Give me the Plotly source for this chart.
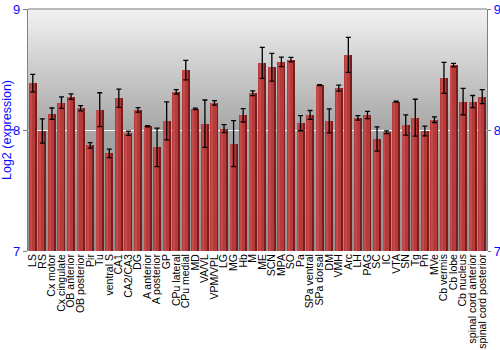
import plotly.graph_objects as go

regions = ["LS", "RS", "Cx motor", "Cx cingulate", "OB anterior", "OB posterior", "Pir", "Tu",
           "ventral S", "CA1", "CA2/CA3", "DG", "A anterior", "A posterior", "GP", "CPu lateral",
           "CPu medial", "MD", "VA/VL", "VPM/VPL", "LG", "MG", "Hb", "M", "ME", "SCN", "MPA", "SO",
           "Pa", "SPa ventral", "SPa dorsal", "DM", "VMH", "Arc", "LH", "PAG", "SC", "IC", "VTA",
           "SN", "Tg", "Pn", "MVe", "Cb vermis", "Cb lobe", "Cb nucleus", "spinal cord anterior",
           "spinal cord posterior"]

expression = [8.387, 7.992, 8.135, 8.226, 8.276, 8.180, 7.873, 8.168,
              7.807, 8.262, 7.973, 8.166, 8.031, 7.857, 8.075, 8.315,
              8.495, 8.174, 8.052, 8.224, 8.011, 7.887, 8.121, 8.304,
              8.555, 8.519, 8.563, 8.582, 8.056, 8.124, 8.370, 8.075,
              8.346, 8.621, 8.100, 8.124, 7.925, 7.981, 8.235, 8.041,
              8.102, 7.992, 8.085, 8.431, 8.536, 8.235, 8.235, 8.276]

error = [0.072, 0.100, 0.047, 0.047, 0.023, 0.022, 0.023, 0.140,
         0.035, 0.075, 0.018, 0.019, 0.005, 0.159, 0.157, 0.019,
         0.080, 0.006, 0.196, 0.018, 0.033, 0.190, 0.055, 0.020,
         0.128, 0.115, 0.040, 0.019, 0.062, 0.037, 0.004, 0.099,
         0.025, 0.144, 0.019, 0.030, 0.100, 0.011, 0.004, 0.084,
         0.152, 0.040, 0.023, 0.128, 0.015, 0.109, 0.050, 0.058]

y_ticks = [7, 8, 9]

blue = "#0a0aff"
fig = go.Figure()

# layered bars to imitate the shaded 3D look
layers = [
    (0.84, -0.42, "#7a1c1c"),
    (0.64, -0.42, "#b53a3a"),
    (0.22, -0.34, "#c24a4a"),
]
for w, off, col in layers:
    fig.add_trace(go.Bar(
        x=list(range(len(regions))), y=[v - 7 for v in expression], base=7,
        width=w, offset=off,
        marker=dict(color=col, line=dict(width=0)),
        showlegend=False, hoverinfo="skip"))

fig.add_trace(go.Scatter(
    x=list(range(len(regions))), y=expression, mode="markers",
    marker=dict(size=1, color="rgba(0,0,0,0)"),
    error_y=dict(type="data", array=error, visible=True, color="black",
                 thickness=1.3, width=2.5),
    showlegend=False, hoverinfo="skip"))

# invisible trace for right axis
fig.add_trace(go.Scatter(x=[0], y=[8], yaxis="y2", mode="markers",
                         marker=dict(size=1, color="rgba(0,0,0,0)"),
                         showlegend=False, hoverinfo="skip"))

# gradient background
n = 60
def lerp(a, b, t):
    return int(round(a + (b - a) * t))
shapes = []
for k in range(n):
    t0 = k / n
    t1 = (k + 1) / n
    tm = (t0 + t1) / 2  # 0 at bottom, 1 at top
    if tm >= 0.5:
        u = (tm - 0.5) / 0.5
        g = lerp(0xa6, 0xf2, u)
    else:
        u = tm / 0.5
        g = lerp(0x90, 0xa6, u)
    c = f"rgb({g},{g},{g})"
    shapes.append(dict(type="rect", xref="paper", yref="paper", x0=0, x1=1, y0=t0, y1=t1 + 0.002,
                       fillcolor=c, line=dict(width=0), layer="below"))
shapes.append(dict(type="line", xref="paper", yref="paper", x0=0, x1=1, y0=1, y1=1,
                   line=dict(color="#808080", width=1.2)))

fig.update_layout(
    width=500, height=350,
    margin=dict(l=28, r=13, t=9, b=99, autoexpand=False),
    paper_bgcolor="white", plot_bgcolor="#a6a6a6",
    barmode="overlay", bargap=0,
    font=dict(family="Liberation Sans, Arial, sans-serif", color="black"),
    shapes=shapes,
    xaxis=dict(tickmode="array", tickvals=list(range(len(regions))), ticktext=regions,
               tickangle=-90, tickfont=dict(size=10.5, color="black"), automargin=False,
               range=[-0.5, len(regions) - 0.5], showgrid=False, ticks="", showline=False,
               zeroline=False),
    yaxis=dict(range=[7, 9], tickvals=y_ticks, tickfont=dict(size=13, color=blue),
               title=dict(text="Log2 (expression)", font=dict(size=12.5, color=blue), standoff=4),
               automargin=False,
               showgrid=True, gridcolor="white", gridwidth=1, ticks="outside", ticklen=4,
               tickcolor="#808080", showline=True, linecolor="#808080", linewidth=1.2,
               zeroline=False),
    yaxis2=dict(range=[7, 9], tickvals=y_ticks, tickfont=dict(size=13, color=blue),
                overlaying="y", side="right", showgrid=False, ticks="outside", ticklen=3,
                automargin=False,
                tickcolor="#808080", showline=True, linecolor="#808080", linewidth=1.2,
                zeroline=False),
)

fig.write_html("out.html")
